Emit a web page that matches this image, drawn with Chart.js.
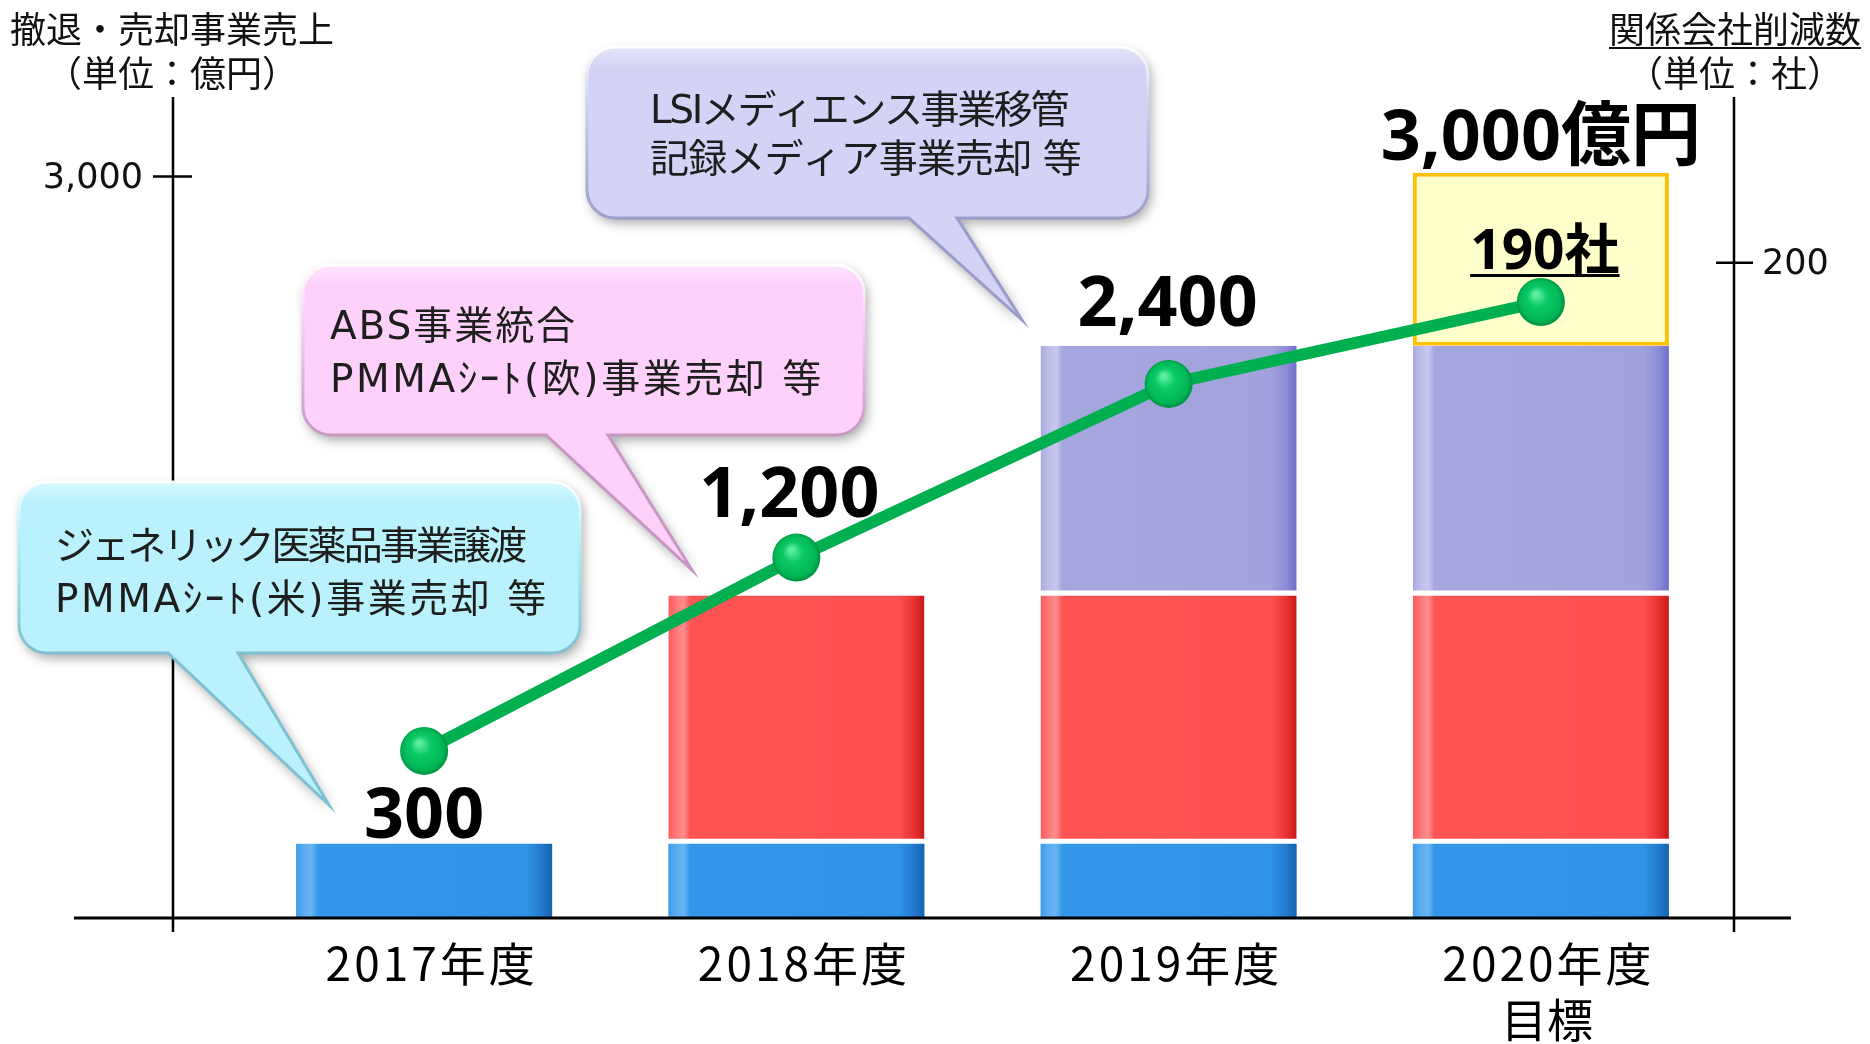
<!DOCTYPE html>
<html lang="ja">
<head>
<meta charset="utf-8">
<title>撤退・売却事業売上と関係会社削減数</title>
<script src="https://cdn.jsdelivr.net/npm/chart.js@4.4.1/dist/chart.umd.min.js"></script>
<style>
  html, body { margin: 0; padding: 0; background: #fff; }
  #wrap { position: relative; width: 1870px; height: 1044px; }
</style>
</head>
<body>
<div id="wrap"><canvas id="salesChart"></canvas></div>
<script>
// カテゴリ
const years = ['2017年度', '2018年度', '2019年度', ['2020年度', '目標']];

// 撤退・売却事業売上（億円）積み上げ
const salesBlue   = [300, 300, 300, 300];
const salesRed    = [null, 1005, 1005, 1005];
const salesPurple = [null, null, 1010, 1010];
const salesTarget = [null, null, null, 700];

// 関係会社削減数（社）
const companyCuts = [51, 110, 163, 188];

// ラベル類
const valueLabels = ['300', '1,200', '2,400', '3,000億円'];
const cutLabel = '190社';
const leftTicks = [3000];
const rightTicks = [200];
const leftTitle = ['撤退・売却事業売上', '（単位：億円）'];
const rightTitle = ['関係会社削減数', '（単位：社）'];

const bubbleTexts = [
    ['ジェネリック医薬品事業譲渡', 'PMMAｼｰﾄ(米)事業売却 等'],
    ['ABS事業統合', 'PMMAｼｰﾄ(欧)事業売却 等'],
    ['LSIメディエンス事業移管', '記録メディア事業売却 等']
];

const FONT_JP = '"Noto Sans CJK JP", "Noto Sans", sans-serif';
const FONT_BUBBLE = '"DejaVu Sans", "Noto Sans CJK JP", sans-serif';
const FONT_NUM = '"Noto Sans", "Noto Sans CJK JP", sans-serif';
const FONT_TICK = '"DejaVu Sans", sans-serif';
const BAR_PCT = 0.688;

// 棒の横方向グラデーション（左にハイライト、右端が暗い）
const blueStops = [[0, '#3B9BEA'], [0.025, '#56AAEE'], [0.06, '#6AB5F1'], [0.085, '#3597E9'], [0.9, '#2F94E8'], [0.96, '#2479CC'], [1, '#1463B0']];
const redStops = [[0, '#FF5A5A'], [0.025, '#FF7272'], [0.06, '#FF8E8E'], [0.085, '#FF5454'], [0.9, '#FF5050'], [0.96, '#E83232'], [1, '#C81818']];
const purpleStops = [[0, '#A8A8E0'], [0.025, '#BBBBE8'], [0.06, '#C8C8EE'], [0.085, '#A6A6DF'], [0.9, '#A2A2DE'], [0.96, '#8C8CD6'], [1, '#6E6ECA']];

function barGradient(stops) {
    return (c) => {
        const chart = c.chart;
        const xs = chart.scales.x;
        if (!xs || c.dataIndex === undefined) return stops[4][1];
        const cx = xs.getPixelForValue(c.dataIndex);
        const w = xs.width / years.length * BAR_PCT;
        if (!Number.isFinite(cx) || !Number.isFinite(w) || w <= 0) return stops[4][1];
        const g = chart.ctx.createLinearGradient(cx - w / 2, 0, cx + w / 2, 0);
        stops.forEach(s => g.addColorStop(s[0], s[1]));
        return g;
    };
}

function pointGradient(c) {
    const chart = c.chart;
    const xs = chart.scales.x, ys = chart.scales.y2;
    if (!xs || !ys || c.dataIndex === undefined || c.raw == null) return '#00C060';
    const px = xs.getPixelForValue(c.dataIndex);
    const py = ys.getPixelForValue(c.raw);
    if (!Number.isFinite(px) || !Number.isFinite(py)) return '#00C060';
    const g = chart.ctx.createRadialGradient(px - 5, py - 8, 2, px, py, 25);
    g.addColorStop(0, '#5BEEA2');
    g.addColorStop(0.35, '#0BCA65');
    g.addColorStop(0.8, '#00B656');
    g.addColorStop(1, '#00883D');
    return g;
}

function line(ctx, x1, y1, x2, y2) {
    ctx.beginPath();
    ctx.moveTo(x1, y1);
    ctx.lineTo(x2, y2);
    ctx.stroke();
}

// 幅を合わせて文字を書く（字間で調整）
function fitText(ctx, text, x, y, target) {
    ctx.letterSpacing = '0px';
    const w = ctx.measureText(text).width;
    const n = [...text].length;
    const sp = (target - w) / n;
    ctx.letterSpacing = sp.toFixed(2) + 'px';
    const off = ctx.textAlign === 'center' ? sp / 2 : 0;
    ctx.fillText(text, x + off, y);
    ctx.letterSpacing = '0px';
}

// 吹き出し（位置は見た目の指定）
const bubbles = [
    { x: 19, y: 482, w: 561, h: 171, tail: [168, 238], tip: [329, 805], tx: 55, ty: [549, 602], tw: [469, 494],
      top: '#D6F9FF', fill: '#B9F1FC', edge: '#7FC0D2' },
    { x: 303, y: 265, w: 561, h: 170, tail: [546, 608], tip: [692, 570], tx: 330, ty: [329, 382], tw: [247, 494],
      top: '#FFE4FE', fill: '#FDD1FA', edge: '#C898C5' },
    { x: 587, y: 47, w: 561, h: 171, tail: [909, 957], tip: [1022, 320], tx: 650, ty: [113, 162], tw: [417, 431],
      top: '#E6E6FB', fill: '#D3D3F5', edge: '#9C9CCA' }
];

function bubblePath(ctx, b) {
    const r = 28, { x, y, w, h } = b;
    ctx.beginPath();
    ctx.moveTo(x + r, y);
    ctx.lineTo(x + w - r, y);
    ctx.arcTo(x + w, y, x + w, y + r, r);
    ctx.lineTo(x + w, y + h - r);
    ctx.arcTo(x + w, y + h, x + w - r, y + h, r);
    ctx.lineTo(b.tail[1], y + h);
    ctx.lineTo(b.tip[0], b.tip[1]);
    ctx.lineTo(b.tail[0], y + h);
    ctx.lineTo(x + r, y + h);
    ctx.arcTo(x, y + h, x, y + h - r, r);
    ctx.lineTo(x, y + r);
    ctx.arcTo(x, y, x + r, y, r);
    ctx.closePath();
}

function drawBubble(ctx, b, lines) {
    ctx.save();
    bubblePath(ctx, b);
    ctx.shadowColor = 'rgba(0,0,0,0.35)';
    ctx.shadowBlur = 12;
    ctx.shadowOffsetX = 3;
    ctx.shadowOffsetY = 5;
    ctx.fillStyle = b.fill;
    ctx.fill();
    ctx.restore();

    ctx.save();
    bubblePath(ctx, b);
    const g = ctx.createLinearGradient(0, b.y, 0, b.y + b.h);
    g.addColorStop(0, b.top);
    g.addColorStop(0.12, b.fill);
    g.addColorStop(1, b.fill);
    ctx.fillStyle = g;
    ctx.fill();
    const sg = ctx.createLinearGradient(0, b.y, 0, b.y + b.h);
    sg.addColorStop(0, '#FFFFFF');
    sg.addColorStop(0.3, b.fill);
    sg.addColorStop(1, b.edge);
    ctx.strokeStyle = sg;
    ctx.lineWidth = 3;
    ctx.stroke();

    ctx.fillStyle = '#1E1E1E';
    ctx.font = '39px ' + FONT_BUBBLE;
    ctx.textAlign = 'left';
    ctx.textBaseline = 'middle';
    lines.forEach((t, i) => fitText(ctx, t, b.tx, b.ty[i], b.tw[i]));
    ctx.restore();
}

// 値ラベルのオフセット（積み上げ上端からの距離）
const labelLift = [6, 78, 20, 13];
const labelShift = [0, -7, -1, 0];

const framePlugin = {
    id: 'frame',
    afterDatasetsDraw(chart) {
        const { ctx } = chart;
        const { y, y2 } = chart.scales;
        const base = y.getPixelForValue(0);
        ctx.save();
        ctx.strokeStyle = '#000';
        ctx.lineWidth = 3;
        line(ctx, 74, base, 1791, base);
        ctx.lineWidth = 2.5;
        line(ctx, 173, 97, 173, 932);
        line(ctx, 1734, 97, 1734, 932);

        // 目盛
        ctx.fillStyle = '#111';
        ctx.font = '35px ' + FONT_TICK;
        ctx.textBaseline = 'middle';
        leftTicks.forEach(v => {
            const py = y.getPixelForValue(v);
            line(ctx, 153, py, 192, py);
            ctx.textAlign = 'right';
            ctx.fillText(v.toLocaleString('en-US'), 143, py + 2);
        });
        rightTicks.forEach(v => {
            const py = y2.getPixelForValue(v);
            line(ctx, 1716, py, 1753, py);
            ctx.textAlign = 'left';
            ctx.fillText(String(v), 1762, py + 2);
        });
        ctx.restore();
    },
    afterDraw(chart) {
        const { ctx } = chart;
        const { x, y, y2 } = chart.scales;

        // 軸タイトル
        ctx.save();
        ctx.fillStyle = '#111';
        ctx.font = '36px ' + FONT_JP;
        ctx.textAlign = 'center';
        ctx.textBaseline = 'middle';
        ctx.fillText(leftTitle[0], 172, 29);
        ctx.fillText(leftTitle[1], 172, 73);
        ctx.fillText(rightTitle[0], 1735, 29);
        ctx.fillText(rightTitle[1], 1735, 73);
        const rw = ctx.measureText(rightTitle[0]).width;
        ctx.strokeStyle = '#111';
        ctx.lineWidth = 2;
        line(ctx, 1735 - rw / 2, 48, 1735 + rw / 2, 48);

        // カテゴリラベル
        ctx.font = '46px ' + FONT_JP;
        ctx.fillStyle = '#000';
        years.forEach((lab, i) => {
            const px = x.getPixelForValue(i) + 6;
            const rows = Array.isArray(lab) ? lab : [lab];
            rows.forEach((t, j) => {
                if (j === 0) fitText(ctx, t, px, 964, 212);
                else ctx.fillText(t, px, 964 + j * 56);
            });
        });
        ctx.restore();

        // 吹き出し
        bubbles.forEach((b, i) => drawBubble(ctx, b, bubbleTexts[i]));

        // 値ラベル
        ctx.save();
        ctx.fillStyle = '#000';
        ctx.textAlign = 'center';
        ctx.textBaseline = 'alphabetic';
        ctx.font = 'bold 70px ' + FONT_NUM;
        valueLabels.forEach((t, i) => {
            const total = [salesBlue, salesRed, salesPurple, salesTarget].reduce((a, s) => a + (s[i] || 0), 0);
            const top = y.getPixelForValue(total);
            ctx.fillText(t, x.getPixelForValue(i) + labelShift[i], top - labelLift[i]);
        });

        // 190社（下線付き）
        const last = companyCuts.length - 1;
        const cx = x.getPixelForValue(last) + 4;
        const cy = y2.getPixelForValue(companyCuts[last]) - 33;
        ctx.font = 'bold 55px ' + FONT_NUM;
        ctx.fillText(cutLabel, cx, cy);
        const cw = ctx.measureText(cutLabel).width;
        ctx.fillRect(cx - cw / 2, cy + 5, cw, 3);
        ctx.restore();
    }
};

new Chart(document.getElementById('salesChart'), {
    type: 'bar',
    data: {
        labels: years,
        datasets: [
            {
                type: 'line', label: '関係会社削減数', data: companyCuts, yAxisID: 'y2', order: 0,
                borderColor: '#00B050', borderWidth: 12, tension: 0,
                pointRadius: 24, pointHoverRadius: 24, pointBorderWidth: 0,
                pointBackgroundColor: pointGradient
            },
            { label: 'blue', data: salesBlue, stack: 's', order: 1, backgroundColor: barGradient(blueStops), borderWidth: 0 },
            { label: 'red', data: salesRed, stack: 's', order: 1, backgroundColor: barGradient(redStops),
              borderColor: '#FFFFFF', borderWidth: { top: 0, left: 0, right: 0, bottom: 5 } },
            { label: 'purple', data: salesPurple, stack: 's', order: 1, backgroundColor: barGradient(purpleStops),
              borderColor: '#FFFFFF', borderWidth: { top: 0, left: 0, right: 0, bottom: 5 } },
            { label: 'target', data: salesTarget, stack: 's', order: 1, backgroundColor: '#FFFFCC',
              borderColor: '#FFC000', borderWidth: 4 }
        ]
    },
    options: {
        responsive: true,
        maintainAspectRatio: false,
        animation: false,
        layout: { padding: { left: 238, right: 143, top: 53, bottom: 126 } },
        datasets: { bar: { barPercentage: BAR_PCT, categoryPercentage: 1, borderSkipped: false } },
        scales: {
            x: { stacked: true, display: false },
            y: { stacked: true, display: false, min: 0, max: 3500 },
            y2: { display: false, min: 0, max: 264, position: 'right' }
        },
        plugins: { legend: { display: false }, tooltip: { enabled: false } }
    },
    plugins: [framePlugin]
});
</script>
</body>
</html>
